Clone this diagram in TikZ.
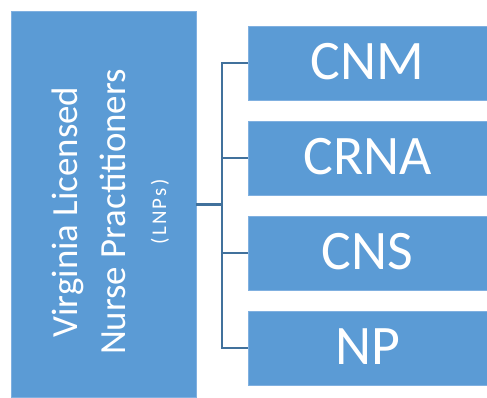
\documentclass[tikz,border=0pt]{standalone}
\usepackage{fontspec}
\setmainfont{Carlito}
\definecolor{boxblue}{RGB}{91,155,213}
\definecolor{edgeblue}{RGB}{128,176,224}
\definecolor{linkblue}{RGB}{65,113,156}

\begin{document}
\begin{tikzpicture}[x=1bp,y=-1bp,
	box/.style={fill=boxblue,draw=edgeblue,line width=0.6bp,inner sep=0pt},
	item/.style={box,minimum width=239bp,minimum height=74bp,text=white,
		font=\fontsize{56}{60}\selectfont,text height=36bp,text depth=4bp},
	title/.style={rotate=90,anchor=base,text=white,inner sep=0pt},
	link/.style={draw=linkblue,line width=2.8bp}]
	\useasboundingbox (0,0) rectangle (487,397);
	% left box
	\node[box,minimum width=185bp,minimum height=386bp] (lnp) at (103.5,204.5) {};
	\node[title,font=\fontsize{37}{44}\selectfont] (lineA) at (77,212) {Virginia Licensed};
	\node[title,font=\fontsize{37}{44}\selectfont] (lineB) at (125,212) {Nurse Practitioners};
	\node[title,font=\fontsize{21}{25}\selectfont\addfontfeature{LetterSpace=11}] (lineC) at (166,212) {(LNPs)};
	% right boxes
	\node[item] (cnm) at (367.5,63) {CNM};
	\node[item] (crna) at (367.5,158) {CRNA};
	\node[item] (cns) at (367.5,253) {CNS};
	\node[item] (np) at (367.5,348) {NP};
	% connectors
	\coordinate (spine) at (222,204.5);
	\draw[link] (lnp.east) -- (spine);
	\draw[link] (spine) |- (cnm.west);
	\draw[link] (spine) |- (crna.west);
	\draw[link] (spine) |- (cns.west);
	\draw[link] (spine) |- (np.west);
\end{tikzpicture}
\end{document}
